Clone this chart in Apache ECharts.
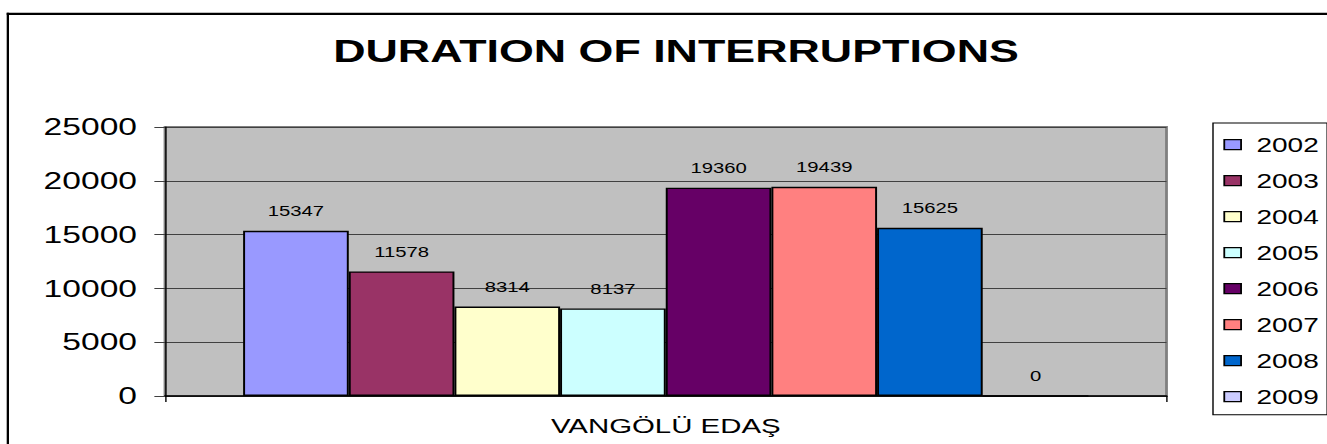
<!DOCTYPE html>
<html>
<head>
<meta charset="utf-8">
<script src="https://cdn.jsdelivr.net/npm/echarts@6/dist/echarts.min.js"></script>
<style>
html, body { margin: 0; padding: 0; background: #fff; overflow: hidden; width: 1327px; height: 444px; }
#chart { width: 947.86px; height: 444px; transform-origin: 0 0; transform: scaleX(1.4); }
</style>
</head>
<body>
<div id="chart"></div>
<script>
const categories = ['VANGÖLÜ EDAŞ'];
const years = ['2002', '2003', '2004', '2005', '2006', '2007', '2008', '2009'];
const durations = [15347, 11578, 8314, 8137, 19360, 19439, 15625, 0];
const yMin = 0, yMax = 25000, yStep = 5000;
const titleText = 'DURATION OF INTERRUPTIONS';

const palette = ['#9999FF', '#993366', '#FFFFCC', '#CCFFFF', '#660066', '#FF8080', '#0066CC', '#CCCCFF'];
const FONT = '"Liberation Sans", Arial, sans-serif';
const SX = 1.4;

const chart = echarts.init(document.getElementById('chart'), null, { renderer: 'svg' });

const series = years.map((y, i) => ({
  name: y,
  type: 'bar',
  data: [durations[i]],
  barGap: 0,
  barCategoryGap: '15.6%',
  itemStyle: { color: palette[i], borderColor: '#000', borderWidth: 1.4 },
  label: {
    show: true, position: 'top', distance: 12,
    color: '#000', fontSize: 14.5, fontFamily: FONT
  }
}));

chart.setOption({
  animation: false,
  backgroundColor: '#fff',
  title: {
    text: titleText,
    left: 669 / SX,
    textAlign: 'center',
    top: 30,
    textStyle: { fontSize: 32, fontWeight: 'bold', color: '#000', fontFamily: FONT }
  },
  legend: {
    orient: 'vertical',
    left: 1213 / SX,
    top: 123,
    padding: [11.7, 6, 8, 7.4],
    itemWidth: 12,
    itemHeight: 10,
    itemGap: 16,
    borderColor: '#000',
    borderWidth: 1,
    backgroundColor: '#fff',
    icon: 'rect',
    itemStyle: { borderColor: '#000', borderWidth: 1.3 },
    textStyle: { fontSize: 20, color: '#000', fontFamily: FONT, padding: [0, 0, 0, 6] },
    data: years
  },
  grid: {
    left: 165 / SX,
    top: 127,
    width: (1166.5 - 165) / SX,
    height: 269,
    show: true,
    backgroundColor: '#C0C0C0',
    borderColor: '#808080',
    borderWidth: 2
  },
  xAxis: {
    type: 'category',
    data: categories,
    axisLine: { show: true, lineStyle: { color: '#000', width: 1.5 } },
    axisTick: { show: true, length: 6, lineStyle: { color: '#000', width: 1 } },
    axisLabel: { color: '#000', fontSize: 21, fontFamily: FONT, margin: 19 },
    splitLine: { show: false }
  },
  yAxis: {
    type: 'value',
    min: yMin, max: yMax, interval: yStep,
    axisLine: { show: true, lineStyle: { color: '#000', width: 1 } },
    axisTick: { show: true, length: 7.6, lineStyle: { color: '#404040', width: 1 } },
    axisLabel: { color: '#000', fontSize: 24, fontFamily: FONT, margin: 20, formatter: v => String(v) },
    splitLine: { show: true, lineStyle: { color: '#404040', width: 1 } }
  },
  graphic: [
    { type: 'rect', shape: { x: 6.7 / SX, y: 12.7, width: 2.3 / SX, height: 600 }, style: { fill: '#000' }, z: 100 },
    { type: 'rect', shape: { x: 6.7 / SX, y: 12.7, width: 1200, height: 2.3 }, style: { fill: '#000' }, z: 100 }
  ],
  series: series
});
</script>
</body>
</html>
